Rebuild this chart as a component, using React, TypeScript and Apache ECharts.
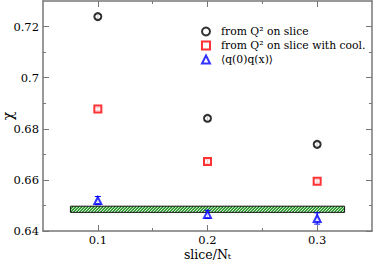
import React, { useEffect, useRef } from "react";
import * as echarts from "echarts";

const slices = [0.1, 0.2, 0.3];
const q2Slice = [0.7239, 0.6841, 0.6739];
const q2SliceErr = [0.0008, 0.0008, 0.0008];
const q2Cool = [0.6877, 0.6672, 0.6595];
const q2CoolErr = [0.0007, 0.0007, 0.0007];
const corr = [0.6519, 0.6465, 0.6449];
const corrErr = [0.0016, 0.0016, 0.0022];
const bandX = [0.075, 0.325];
const bandY = [0.6473, 0.6497];

const yMajor = [0.64, 0.66, 0.68, 0.7, 0.72];
const yMinor = [0.65, 0.67, 0.69, 0.71];
const xMajor = [0.1, 0.2, 0.3];
const xMinor = [0.15, 0.25];

const names = ["from Q² on slice", "from Q² on slice with cool.", "⟨q(0)q(x)⟩"];

const FONT = "DejaVu Serif";
const AXIS_COLOR = "#777";

function errBars(xs: number[], ys: number[], es: number[]) {
  return xs.map((x, i) => [x, ys[i], es[i]]);
}

function errRender(color: string) {
  return (params: any, api: any) => {
    const x = api.value(0);
    const y = api.value(1);
    const e = api.value(2);
    const lo = api.coord([x, y - e]);
    const hi = api.coord([x, y + e]);
    const w = 3;
    const st = { stroke: color, lineWidth: 1 };
    return {
      type: "group",
      children: [
        { type: "line", shape: { x1: lo[0], y1: lo[1], x2: hi[0], y2: hi[1] }, style: st },
        { type: "line", shape: { x1: lo[0] - w, y1: lo[1], x2: lo[0] + w, y2: lo[1] }, style: st },
        { type: "line", shape: { x1: hi[0] - w, y1: hi[1], x2: hi[0] + w, y2: hi[1] }, style: st },
      ],
    };
  };
}

function bandRender(params: any, api: any) {
  const tl = api.coord([api.value(0), api.value(3)]);
  const br = api.coord([api.value(1), api.value(2)]);
  const x0 = tl[0], x1 = br[0], yt = tl[1], yb = br[1];
  const h = yb - yt;
  const children: any[] = [
    { type: "rect", shape: { x: x0, y: yt, width: x1 - x0, height: h }, style: { fill: "#fff", stroke: "none" } },
  ];
  const period = 3;
  for (let s = x0 - h; s < x1; s += period) {
    let sx = s, sy = yb, ex = s + h, ey = yt;
    if (sx < x0) { sy = yb - (x0 - s); sx = x0; }
    if (ex > x1) { ey = yb - (x1 - s); ex = x1; }
    if (ex <= sx) continue;
    children.push({ type: "line", shape: { x1: sx, y1: sy, x2: ex, y2: ey }, style: { stroke: "#0a8a0a", lineWidth: 1.3 } });
  }
  children.push({ type: "rect", shape: { x: x0, y: yt, width: x1 - x0, height: h }, style: { fill: "none", stroke: "#111", lineWidth: 1 } });
  return { type: "group", children };
}

export default function App() {
  const ref = useRef<HTMLDivElement>(null);
  useEffect(() => {
    if (!ref.current) return;
    const chart = echarts.init(ref.current, null, { renderer: "svg" });
    const baseX = {
      type: "value",
      min: 0.05,
      max: 0.35,
      splitLine: { show: false },
      axisLine: { show: true, lineStyle: { color: AXIS_COLOR, width: 1.5 } },
    };
    const baseY = {
      type: "value",
      min: 0.64,
      max: 0.73,
      splitLine: { show: false },
      axisLine: { show: true, lineStyle: { color: AXIS_COLOR, width: 1.5 } },
    };
    const tickStyle = { color: AXIS_COLOR, width: 1 };
    const option: any = {
      animation: false,
      backgroundColor: "#fff",
      textStyle: { fontFamily: FONT },
      grid: { left: 43, right: 2, top: 1, bottom: 33, outerBoundsMode: "none", containLabel: false },
      xAxis: [
        {
          ...baseX,
          position: "bottom",
          axisTick: { show: true, inside: true, length: 6, customValues: xMajor, lineStyle: tickStyle },
          axisLabel: { customValues: xMajor, margin: 3, color: "#000", fontFamily: FONT, fontSize: 11.5 },
          name: "{a|slice/N}{s|t}",
          nameLocation: "middle",
          nameGap: 16,
          nameMoveOverlap: false,
          nameTextStyle: {
            color: "#000",
            fontFamily: FONT,
            fontSize: 12.5,
            rich: {
              a: { fontFamily: FONT, fontSize: 12.5, color: "#000", lineHeight: 14 },
              s: { fontFamily: FONT, fontSize: 8, color: "#000", lineHeight: 14, padding: [4, 0, 0, 0] },
            },
          },
        },
        {
          ...baseX,
          position: "bottom",
          axisLine: { show: false },
          axisTick: { show: true, inside: true, length: 3, customValues: xMinor, lineStyle: tickStyle },
          axisLabel: { show: false },
        },
        {
          ...baseX,
          position: "top",
          axisTick: { show: true, inside: true, length: 6, customValues: xMajor, lineStyle: tickStyle },
          axisLabel: { show: false },
        },
        {
          ...baseX,
          position: "top",
          axisLine: { show: false },
          axisTick: { show: true, inside: true, length: 3, customValues: xMinor, lineStyle: tickStyle },
          axisLabel: { show: false },
        },
      ],
      yAxis: [
        {
          ...baseY,
          position: "left",
          axisTick: { show: true, inside: true, length: 6, customValues: yMajor, lineStyle: tickStyle },
          axisLabel: { customValues: yMajor, margin: 4, color: "#000", fontFamily: FONT, fontSize: 11.5 },
          name: "χ",
          nameLocation: "middle",
          nameRotate: 90,
          nameGap: 28,
          nameMoveOverlap: false,
          nameTextStyle: { color: "#000", fontFamily: FONT, fontSize: 14, lineHeight: 14 },
        },
        {
          ...baseY,
          position: "left",
          axisLine: { show: false },
          axisTick: { show: true, inside: true, length: 3, customValues: yMinor, lineStyle: tickStyle },
          axisLabel: { show: false },
        },
        {
          ...baseY,
          position: "right",
          axisTick: { show: true, inside: true, length: 6, customValues: yMajor, lineStyle: tickStyle },
          axisLabel: { show: false },
        },
        {
          ...baseY,
          position: "right",
          axisLine: { show: false },
          axisTick: { show: true, inside: true, length: 3, customValues: yMinor, lineStyle: tickStyle },
          axisLabel: { show: false },
        },
      ],
      legend: {
        orient: "vertical",
        left: 196,
        top: 21,
        itemWidth: 8,
        itemHeight: 8,
        itemGap: 3,
        selectedMode: false,
        data: names,
        textStyle: { color: "#000", fontFamily: FONT, fontSize: 10.8, padding: [0, 0, 0, 6] },
      },
      series: [
        {
          type: "custom",
          name: "band",
          data: [[bandX[0], bandX[1], bandY[0], bandY[1]]],
          encode: { x: [0, 1], y: [2, 3] },
          renderItem: bandRender,
          silent: true,
          z: 1,
        },
        {
          type: "custom",
          data: errBars(slices, q2Slice, q2SliceErr),
          encode: { x: 0, y: 1 },
          renderItem: errRender("#000"),
          z: 3,
        },
        {
          type: "custom",
          data: errBars(slices, q2Cool, q2CoolErr),
          encode: { x: 0, y: 1 },
          renderItem: errRender("#ff0000"),
          z: 3,
        },
        {
          type: "custom",
          data: errBars(slices, corr, corrErr),
          encode: { x: 0, y: 1 },
          renderItem: errRender("#0000ff"),
          z: 3,
        },
        {
          type: "scatter",
          name: names[0],
          symbol: "emptyCircle",
          symbolSize: 7,
          itemStyle: { color: "#000", borderColor: "#000", borderWidth: 1.2 },
          data: slices.map((x, i) => [x, q2Slice[i]]),
          z: 4,
        },
        {
          type: "scatter",
          name: names[1],
          symbol: "emptyRect",
          symbolSize: 7,
          itemStyle: { color: "#ff0000", borderColor: "#ff0000", borderWidth: 1.2 },
          data: slices.map((x, i) => [x, q2Cool[i]]),
          z: 4,
        },
        {
          type: "scatter",
          name: names[2],
          symbol: "emptyTriangle",
          symbolSize: 7,
          itemStyle: { color: "#0000ff", borderColor: "#0000ff", borderWidth: 1.2 },
          data: slices.map((x, i) => [x, corr[i]]),
          z: 4,
        },
      ],
    };
    chart.setOption(option);
    return () => chart.dispose();
  }, []);
  return (
    <div
      ref={ref}
      style={{ position: "fixed", left: 0, top: 0, width: 374, height: 264, background: "#fff" }}
    />
  );
}
